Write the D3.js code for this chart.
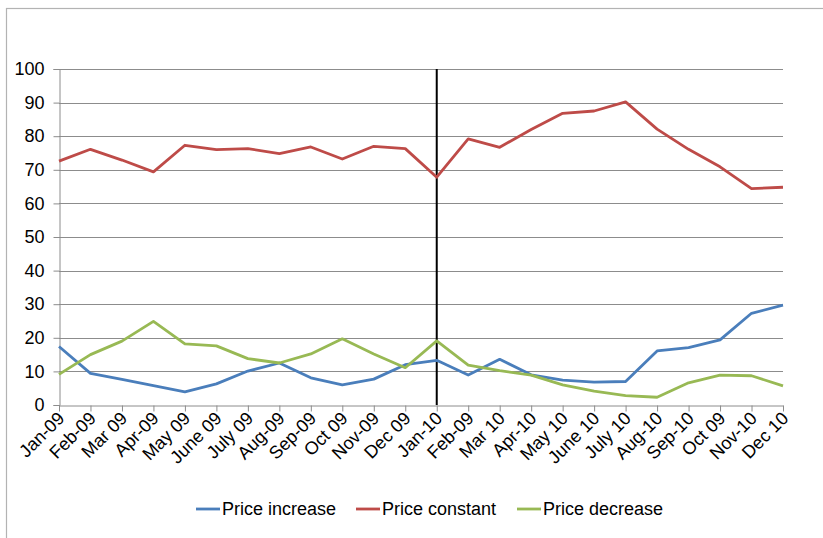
<!DOCTYPE html>
<html>
<head>
<meta charset="utf-8">
<script src="https://cdn.jsdelivr.net/npm/d3@7"></script>
<style>
  html, body { margin: 0; padding: 0; background: #fff; }
  svg { display: block; font-family: "Liberation Sans", Arial, sans-serif; }
</style>
</head>
<body>
<svg id="chart" width="823" height="538"></svg>
<script>
// Month labels along the x axis
const months = ["Jan-09", "Feb-09", "Mar 09", "Apr-09", "May 09", "June 09", "July 09", "Aug-09",
  "Sep-09", "Oct 09", "Nov-09", "Dec 09", "Jan-10", "Feb-09", "Mar 10", "Apr-10", "May 10",
  "June 10", "July 10", "Aug-10", "Sep-10", "Oct 09", "Nov-10", "Dec 10"];

// Share of responses (%) per month
const priceIncrease = [17.4, 9.4, 7.6, 5.8, 3.9, 6.3, 10.1, 12.5, 8.1, 6.0, 7.7, 12.0,
  13.3, 8.9, 13.6, 9.0, 7.4, 6.8, 7.0, 16.1, 17.1, 19.4, 27.3, 29.7];
const priceConstant = [72.6, 76.1, 72.9, 69.4, 77.3, 76.0, 76.3, 74.8, 76.8, 73.2, 77.0, 76.3,
  67.8, 79.2, 76.7, 82.0, 86.8, 87.5, 90.2, 82.1, 76.1, 70.9, 64.4, 64.8];
const priceDecrease = [9.1, 15.0, 19.0, 24.9, 18.2, 17.6, 13.8, 12.5, 15.2, 19.7, 15.2, 11.1,
  19.1, 11.9, 10.2, 8.9, 6.0, 4.1, 2.8, 2.3, 6.6, 8.9, 8.7, 5.7];

const yTicks = [0, 10, 20, 30, 40, 50, 60, 70, 80, 90, 100];
const markerMonth = "Jan-10";

const series = [
  { name: "Price increase", values: priceIncrease, color: "#4a7ebb" },
  { name: "Price constant", values: priceConstant, color: "#be4b48" },
  { name: "Price decrease", values: priceDecrease, color: "#98b954" }
];

const svg = d3.select("#chart");
const margin = { left: 59, right: 40, top: 69, bottom: 133 };
const W = 823, H = 538;

// Outer chart frame
svg.append("rect")
  .attr("x", 6.5).attr("y", 8.5)
  .attr("width", W + 10).attr("height", H + 10)
  .attr("fill", "none").attr("stroke", "#b3b3b3").attr("stroke-width", 1.2);

const x = d3.scalePoint().domain(d3.range(months.length)).range([margin.left, W - margin.right]);
const y = d3.scaleLinear().domain([0, 100]).range([H - margin.bottom, margin.top]);

// Horizontal gridlines
svg.append("g")
  .selectAll("line")
  .data(yTicks.filter(d => d > 0))
  .join("line")
  .attr("x1", margin.left).attr("x2", W - margin.right)
  .attr("y1", d => Math.round(y(d)) + 0.5).attr("y2", d => Math.round(y(d)) + 0.5)
  .attr("stroke", "#8c8c8c").attr("stroke-width", 1);

// Y axis
const yAxis = svg.append("g")
  .attr("transform", `translate(${margin.left + 0.5},0)`)
  .call(d3.axisLeft(y).tickValues(yTicks).tickSize(6).tickPadding(9));
yAxis.select(".domain").attr("stroke", "#8c8c8c");
yAxis.selectAll(".tick line").attr("stroke", "#8c8c8c");
yAxis.selectAll("text").attr("font-size", 18).attr("fill", "#000")
  .attr("font-family", "Liberation Sans, Arial, sans-serif");

// X axis with rotated month labels
const xAxis = svg.append("g")
  .attr("transform", `translate(0,${Math.round(y(0)) + 0.5})`)
  .call(d3.axisBottom(x).tickFormat(i => months[i]).tickSize(6).tickSizeOuter(0));
xAxis.select(".domain").attr("stroke", "#8c8c8c");
xAxis.selectAll(".tick line").attr("stroke", "#8c8c8c");
xAxis.selectAll("text")
  .attr("font-size", 18).attr("fill", "#000")
  .attr("font-family", "Liberation Sans, Arial, sans-serif")
  .attr("text-anchor", "end")
  .attr("dy", null)
  .attr("y", 0)
  .attr("transform", "translate(6,14) rotate(-45)");

// Vertical marker at the start of 2010
const mi = months.indexOf(markerMonth);
svg.append("line")
  .attr("x1", x(mi)).attr("x2", x(mi))
  .attr("y1", y(100)).attr("y2", y(0))
  .attr("stroke", "#000").attr("stroke-width", 2);

// Series lines
const line = d3.line().x((d, i) => x(i)).y(d => y(d));
svg.append("g")
  .selectAll("path")
  .data(series)
  .join("path")
  .attr("d", d => line(d.values))
  .attr("fill", "none")
  .attr("stroke", d => d.color)
  .attr("stroke-width", 2.8)
  .attr("stroke-linejoin", "round");

// Legend
const legendX = [196, 356, 517];
const legend = svg.append("g").selectAll("g")
  .data(series)
  .join("g")
  .attr("transform", (d, i) => `translate(${legendX[i]},509)`);
legend.append("line")
  .attr("x1", 0).attr("x2", 24)
  .attr("stroke", d => d.color).attr("stroke-width", 2.8);
legend.append("text")
  .attr("x", 26).attr("y", 0).attr("dy", "0.35em")
  .attr("font-size", 18).attr("fill", "#000")
  .text(d => d.name);
</script>
</body>
</html>
